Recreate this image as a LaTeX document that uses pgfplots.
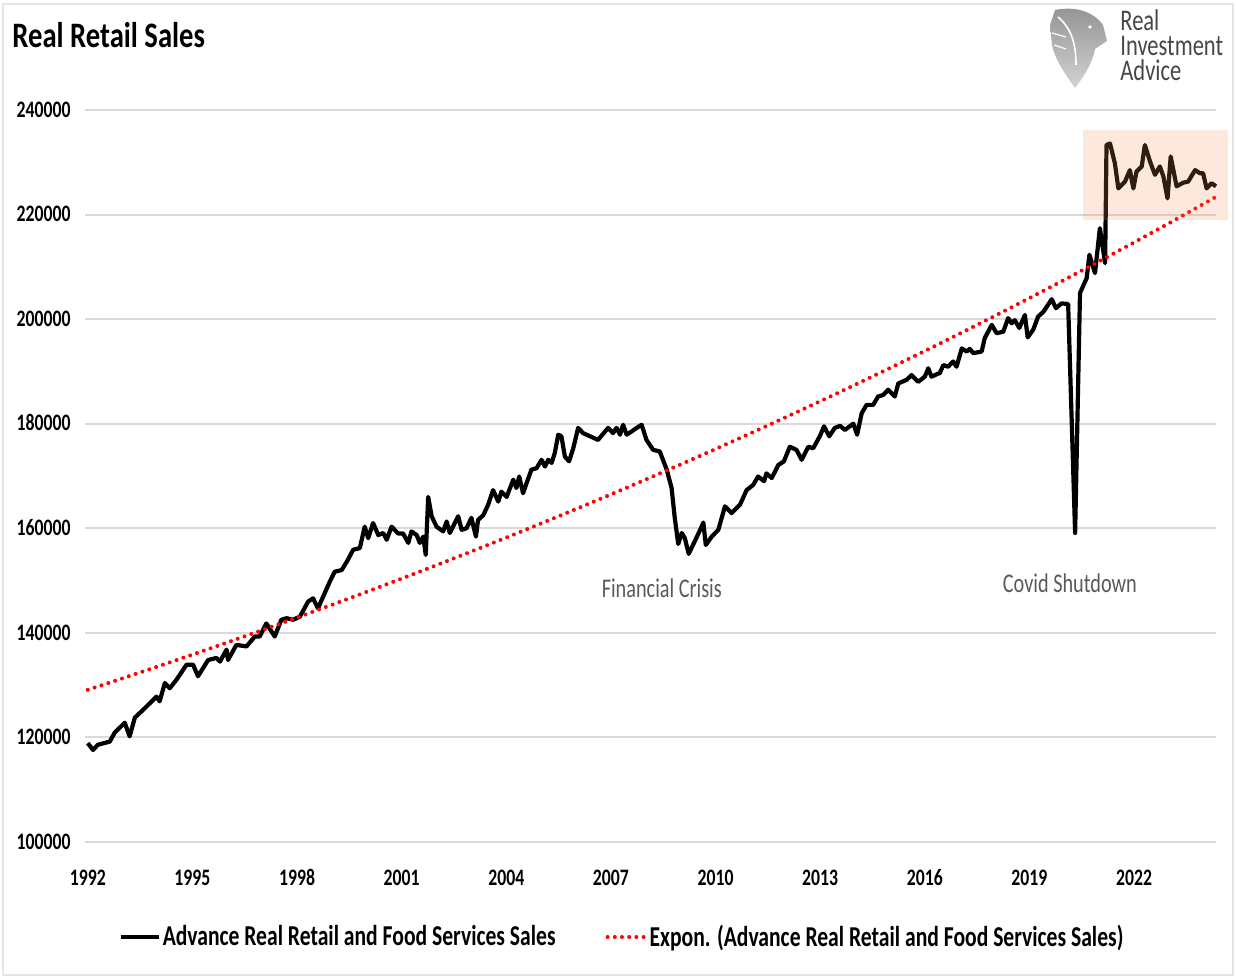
\documentclass[border=0pt]{standalone}
\usepackage{fontspec}
\setmainfont{Carlito}[FakeStretch=0.75]
\newfontfamily\titlefont{Carlito}[FakeStretch=0.8]
\usepackage{pgfplots}
\pgfplotsset{compat=1.18}
\definecolor{gridc}{RGB}{217,217,217}
\definecolor{annot}{RGB}{89,89,89}
\definecolor{hl}{RGB}{240,140,80}
\definecolor{logoc}{RGB}{70,70,70}
\begin{document}
\begin{tikzpicture}
\useasboundingbox (0pt,0pt) rectangle (618pt,488.5pt);
\draw[gray!20, line width=1pt] (1.5pt,1pt) rectangle (616.5pt,486.5pt);
% title
\node[anchor=base west, inner sep=0pt, font=\titlefont\fontsize{17.9pt}{20pt}\selectfont\bfseries] at (6pt,464.5pt) {Real Retail Sales};
% logo
\shade[top color=gray!85, bottom color=gray!35]
  (527.5pt,483.5pt) .. controls (540pt,486pt) and (548pt,481pt) .. (551.5pt,476pt)
  -- (553.5pt,468pt) -- (547.5pt,464pt) .. controls (546pt,456pt) and (541pt,449pt) .. (537.5pt,444.5pt)
  .. controls (532pt,452pt) and (527pt,460pt) .. (526pt,466pt) -- (525pt,476pt) -- cycle;
\draw[white, line width=0.8pt] (529pt,480pt) .. controls (536pt,474pt) and (538pt,466pt) .. (538pt,456pt);
\draw[white, line width=0.6pt] (526pt,472pt) -- (533pt,470pt);
\draw[white, line width=0.6pt] (527pt,466pt) -- (533pt,464pt);
\fill[white] (545pt,475pt) circle (0.9pt);
\node[anchor=north west, inner sep=0pt, align=left, text=logoc, font=\fontsize{15pt}{12.5pt}\selectfont] at (560pt,484pt) {Real\\Investment\\Advice};
\begin{axis}[
  at={(42.5pt,67.5pt)}, anchor=south west,
  width=565.5pt, height=366pt, scale only axis,
  xmin=1991.92, xmax=2024.35, ymin=100000, ymax=240000,
  clip=false,
  axis line style={draw=none},
  major tick length=0pt,
  ymajorgrids, grid style={gridc, line width=1pt},
  ytick={100000,120000,...,240000},
  xtick={1992,1995,...,2022},
  scaled y ticks=false,
  typeset ticklabels with strut,
  /pgf/number format/assume math mode=true,
  y tick label style={/pgf/number format/fixed, /pgf/number format/1000 sep={}, font=\fontsize{11.8pt}{13pt}\selectfont\bfseries, xshift=-3.7pt, yshift=-1pt},
  x tick label style={/pgf/number format/1000 sep={}, font=\fontsize{11.8pt}{13pt}\selectfont\bfseries, yshift=-9pt},
  legend columns=2,
  legend style={at={(0.4748,-0.1298)}, anchor=center, draw=none, fill=none,
    font=\fontsize{14.4pt}{16pt}\selectfont\bfseries,
    nodes={inner xsep=1pt},
    /tikz/every even column/.append style={column sep=24pt}},
  legend image code/.code={\draw[#1] (0pt,0pt) -- (19pt,0pt);},
]
\addplot[black, line width=2.1pt, line join=round] coordinates {
(1992.00,118900)(1992.15,117600)(1992.29,118600)(1992.63,119200)(1992.77,120900)
(1993.06,122800)(1993.20,120200)(1993.35,123800)(1993.59,125300)(1993.97,127800)
(1994.06,126900)(1994.21,130400)(1994.35,129400)(1994.54,131000)(1994.83,133900)
(1995.02,133900)(1995.16,131700)(1995.45,134800)(1995.69,135200)(1995.79,134500)
(1995.98,136800)(1996.02,134800)(1996.26,137700)(1996.55,137400)(1996.79,139300)
(1996.93,139300)(1997.12,141800)(1997.36,139300)(1997.55,142500)(1997.70,142800)
(1997.89,142500)(1998.08,143100)(1998.32,146000)(1998.46,146600)(1998.60,144700)
(1998.94,149800)(1999.08,151700)(1999.28,152000)(1999.46,154000)(1999.61,155900)
(1999.80,156200)(1999.94,160300)(2000.04,158100)(2000.18,161000)(2000.33,158700)
(2000.47,159100)(2000.57,157800)(2000.71,160300)(2000.90,159000)(2001.04,159000)
(2001.19,157200)(2001.28,159400)(2001.43,158700)(2001.52,157200)(2001.62,158400)
(2001.69,154900)(2001.76,166000)(2001.86,162300)(2002.00,160300)(2002.19,159400)
(2002.29,161300)(2002.38,159100)(2002.62,162300)(2002.72,159700)(2002.86,160000)
(2003.00,162000)(2003.13,158400)(2003.19,161600)(2003.34,162500)(2003.48,164500)
(2003.62,167300)(2003.77,165100)(2003.86,167000)(2004.01,166000)(2004.20,169300)
(2004.29,167700)(2004.37,169900)(2004.48,166700)(2004.58,168600)(2004.72,171200)
(2004.87,171500)(2005.01,173100)(2005.11,171800)(2005.20,173100)(2005.30,172500)
(2005.39,174400)(2005.49,177900)(2005.58,177600)(2005.68,173700)(2005.80,172800)
(2005.92,175300)(2006.06,179200)(2006.20,178200)(2006.40,177600)(2006.63,176900)
(2006.92,179200)(2007.06,178200)(2007.16,179200)(2007.26,177900)(2007.35,179800)
(2007.45,177900)(2007.59,178500)(2007.74,179200)(2007.88,179800)(2008.02,176900)
(2008.21,175000)(2008.40,174700)(2008.60,171200)(2008.74,167700)(2008.83,162000)
(2008.93,157000)(2009.03,159100)(2009.12,158100)(2009.23,155100)(2009.41,157600)
(2009.60,160300)(2009.65,161100)(2009.72,156800)(2009.89,158400)(2010.08,159700)
(2010.27,164200)(2010.46,162900)(2010.70,164500)(2010.89,167300)(2011.08,168300)
(2011.22,169900)(2011.39,169000)(2011.46,170500)(2011.61,169600)(2011.80,172100)
(2011.96,172800)(2012.13,175600)(2012.32,175000)(2012.47,173100)(2012.66,175600)
(2012.80,175300)(2012.99,177600)(2013.11,179500)(2013.26,177600)(2013.42,179200)
(2013.57,179600)(2013.71,178800)(2013.95,180000)(2014.06,177900)(2014.19,182000)
(2014.33,183600)(2014.52,183600)(2014.66,185200)(2014.81,185500)(2014.95,186500)
(2015.14,185200)(2015.24,187700)(2015.48,188400)(2015.62,189300)(2015.81,188000)
(2016.00,189000)(2016.10,190600)(2016.19,189000)(2016.43,189700)(2016.53,191200)
(2016.67,190900)(2016.81,191900)(2016.91,190900)(2017.06,194400)(2017.20,193800)
(2017.29,194300)(2017.39,193500)(2017.63,193800)(2017.72,196400)(2017.92,198900)
(2018.06,197300)(2018.25,197600)(2018.39,200200)(2018.49,199200)(2018.58,199800)
(2018.71,198300)(2018.87,200800)(2018.95,196500)(2019.11,198000)(2019.25,200500)
(2019.40,201400)(2019.64,203800)(2019.76,202100)(2019.92,203000)(2020.11,202900)
(2020.31,159100)(2020.45,205000)(2020.64,207800)(2020.72,212300)(2020.88,208800)
(2021.02,217400)(2021.17,210700)(2021.21,233300)(2021.31,233600)(2021.45,229800)
(2021.55,225000)(2021.74,226300)(2021.88,228500)(2021.98,225000)(2022.07,228200)
(2022.22,229200)(2022.31,233300)(2022.46,230100)(2022.60,227600)(2022.74,229200)
(2022.84,227300)(2022.96,223100)(2023.05,231100)(2023.22,225400)(2023.41,226100)
(2023.55,226300)(2023.75,228500)(2023.89,227900)(2023.98,227900)(2024.08,225000)
(2024.22,226000)(2024.35,225400)
};
\addlegendentry{Advance Real Retail and Food Services Sales}
\addplot[red, line width=2pt, dash pattern=on 0pt off 3.6pt, line cap=round] coordinates {
(1992,129100)(1993,131308)(1994,133552)(1995,135835)(1996,138157)(1997,140519)
(1998,142921)(1999,145364)(2000,147849)(2001,150376)(2002,152947)(2003,155561)
(2004,158220)(2005,160925)(2006,163676)(2007,166474)(2008,169320)(2009,172214)
(2010,175158)(2011,178152)(2012,181197)(2013,184294)(2014,187444)(2015,190648)
(2016,193907)(2017,197222)(2018,200593)(2019,204022)(2020,207510)(2021,211057)
(2022,214664)(2023,218334)(2024,222066)(2024.35,223387)
};
\addlegendentry{Expon. (Advance Real Retail and Food Services Sales)}
\fill[hl, opacity=0.2] (axis cs:2020.53,219000) rectangle (axis cs:2024.69,236200);
\node[text=annot, font=\fontsize{13.5pt}{15pt}\selectfont] at (axis cs:2008.46,148600) {Financial Crisis};
\node[text=annot, font=\fontsize{13.5pt}{15pt}\selectfont] at (axis cs:2020.16,149400) {Covid Shutdown};
\end{axis}
\end{tikzpicture}
\end{document}
